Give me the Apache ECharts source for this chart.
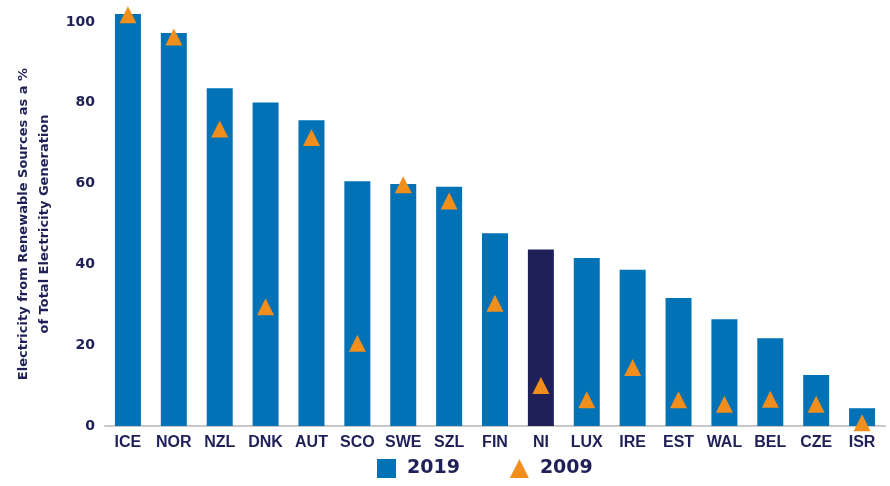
<!DOCTYPE html>
<html>
<head>
<meta charset="utf-8">
<script src="https://cdn.jsdelivr.net/npm/echarts@6/dist/echarts.min.js"></script>
<style>html,body{margin:0;padding:0;background:#fff;}#c{width:890px;height:486px;}</style>
</head>
<body>
<div id="c"></div>
<script>
const categories = ['ICE','NOR','NZL','DNK','AUT','SCO','SWE','SZL','FIN','NI','LUX','IRE','EST','WAL','BEL','CZE','ISR'];
const values2019 = [102.0, 97.3, 83.6, 80.1, 75.7, 60.6, 59.9, 59.2, 47.7, 43.7, 41.6, 38.7, 31.7, 26.4, 21.7, 12.6, 4.4];
const values2009 = [101.8, 96.3, 73.5, 29.5, 71.4, 20.5, 59.7, 55.7, 30.4, 10.0, 6.5, 14.5, 6.5, 5.4, 6.6, 5.4, 0.8];
const yTicks = [0, 20, 40, 60, 80, 100];
const highlight = 'NI';

const navy = '#1f2057';
const blue = '#0072b5';
const orange = '#f28e1c';
const font = '"Liberation Sans", Arial, sans-serif';
const wide = '"DejaVu Sans", sans-serif';

const chart = echarts.init(document.getElementById('c'));
chart.setOption({
  animation: false,
  grid: { left: 105, right: 5, top: 22, bottom: 60, outerBoundsMode: 'none', containLabel: false },
  legend: {
    left: 377, top: 459, padding: 0,
    itemWidth: 19, itemHeight: 19, itemGap: 50,
    textStyle: { color: navy, fontFamily: wide, fontWeight: 'bold', fontSize: 19, padding: [0, 0, 0, 6] },
    data: [{ name: '2019', icon: 'rect' }, { name: '2009', icon: 'triangle' }]
  },
  xAxis: {
    type: 'category',
    data: categories,
    axisLine: { lineStyle: { color: '#c8c8c8', width: 2 } },
    axisTick: { show: false },
    axisLabel: { interval: 0, color: navy, fontFamily: font, fontWeight: 'bold', fontSize: 16, margin: 9 }
  },
  yAxis: {
    type: 'value',
    min: yTicks[0], max: yTicks[yTicks.length - 1], interval: 20,
    name: 'Electricity from Renewable Sources as a %\nof Total Electricity Generation',
    nameLocation: 'middle', nameGap: 50, nameRotate: 90,
    nameTextStyle: { color: navy, fontFamily: wide, fontWeight: 'bold', fontSize: 13, lineHeight: 21 },
    axisLine: { show: false }, axisTick: { show: false }, splitLine: { show: false },
    axisLabel: { color: navy, fontFamily: wide, fontWeight: 'bold', fontSize: 14, margin: 10 }
  },
  series: [
    {
      name: '2019', type: 'bar', clip: false, barWidth: 26,
      itemStyle: { color: blue },
      data: values2019.map((v, i) => categories[i] === highlight ? { value: v, itemStyle: { color: navy } } : v)
    },
    {
      name: '2009', type: 'scatter', clip: false,
      symbol: 'triangle', symbolSize: [17, 17],
      itemStyle: { color: orange, opacity: 1 },
      data: values2009.map((v, i) => [i, v]),
      z: 5
    }
  ]
});
</script>
</body>
</html>
